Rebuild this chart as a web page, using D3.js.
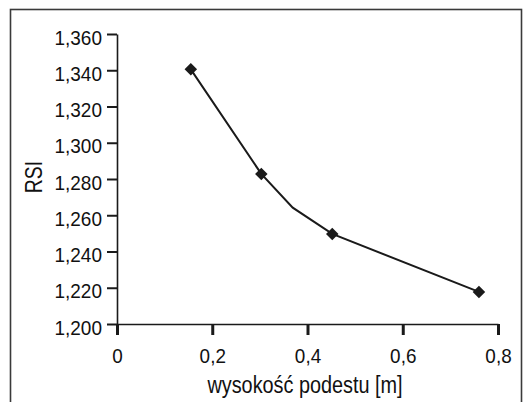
<!DOCTYPE html>
<html>
<head>
<meta charset="utf-8">
<script src="https://cdn.jsdelivr.net/npm/d3@7"></script>
<style>
  body { margin: 0; background: #fff; }
  text { font-family: "Liberation Sans", Arial, sans-serif; fill: #111; }
</style>
</head>
<body>
<div class="chart"></div>
<script>
// values
const heights = [0.155, 0.303, 0.369, 0.452, 0.760];
const rsi = [1.3405, 1.2828, 1.2642, 1.2497, 1.2177];
const hasMarker = [true, true, false, true, true];

const xTicks = [0, 0.2, 0.4, 0.6, 0.8];
const yTicks = [1.2, 1.22, 1.24, 1.26, 1.28, 1.3, 1.32, 1.34, 1.36];

const xTitle = "wysokość podestu [m]";
const yTitle = "RSI";

const W = 525, H = 402;
const margin = { top: 34, right: 27, bottom: 78, left: 117 };
const width = W - margin.left - margin.right;
const height = H - margin.top - margin.bottom;

// condensed look: squeeze text horizontally
const sxY = 0.95;
const sxX = 0.9;
const sxTitle = 0.81;

const pl = d3.formatLocale({ decimal: ",", thousands: " ", grouping: [3], currency: ["", " zł"] });

const svg = d3.select(".chart")
    .append("svg")
    .attr("width", W)
    .attr("height", H);

// outer frame (runs off the bottom edge)
svg.append("rect")
    .attr("x", 10.5)
    .attr("y", 9.5)
    .attr("width", 511)
    .attr("height", 420)
    .attr("fill", "none")
    .attr("stroke", "#3a3a3a")
    .attr("stroke-width", 1.6);

const g = svg.append("g")
    .attr("transform", "translate(" + margin.left + "," + margin.top + ")");

const x = d3.scaleLinear()
    .domain([0, 0.8])
    .range([0, width]);

const y = d3.scaleLinear()
    .domain([1.2, 1.36])
    .range([height, 0]);

// y axis
const yAxis = g.append("g")
    .call(d3.axisLeft(y)
        .tickValues(yTicks)
        .tickFormat(pl.format(".3f"))
        .tickSize(10)
        .tickSizeOuter(0));
yAxis.attr("font-family", null);
yAxis.select(".domain").attr("stroke", "#1a1a1a").attr("stroke-width", 1.6);
yAxis.selectAll(".tick line").attr("stroke", "#1a1a1a").attr("stroke-width", 2);
yAxis.selectAll(".tick text")
    .attr("font-size", 20)
    .attr("x", -15 / sxY)
    .attr("dy", "0.5em")
    .attr("transform", "scale(" + sxY + ",1)");

// x axis
const xAxis = g.append("g")
    .attr("transform", "translate(0," + height + ")")
    .call(d3.axisBottom(x)
        .tickValues(xTicks)
        .tickFormat(d => d === 0 ? "0" : pl.format(".1f")(d))
        .tickSize(11)
        .tickSizeOuter(0));
xAxis.attr("font-family", null);
xAxis.select(".domain").attr("stroke", "#1a1a1a").attr("stroke-width", 1.6);
xAxis.selectAll(".tick line").attr("stroke", "#1a1a1a").attr("stroke-width", 3);
xAxis.selectAll(".tick text")
    .attr("font-size", 21)
    .attr("y", 39.5)
    .attr("dy", null)
    .attr("transform", "scale(" + sxX + ",1)");

// titles
g.append("text")
    .attr("transform", "translate(" + (305 - margin.left) + "," + (392.5 - margin.top) + ") scale(" + sxTitle + ",1)")
    .attr("text-anchor", "middle")
    .attr("font-size", 24.5)
    .text(xTitle);

g.append("text")
    .attr("transform", "translate(" + (42 - margin.left) + "," + (177 - margin.top) + ") rotate(-90) scale(" + sxTitle + ",1)")
    .attr("text-anchor", "middle")
    .attr("font-size", 24)
    .text(yTitle);

// line
const pts = heights.map((h, i) => ({ x: h, y: rsi[i], m: hasMarker[i] }));

g.append("path")
    .datum(pts)
    .attr("fill", "none")
    .attr("stroke", "#1a1a1a")
    .attr("stroke-width", 2)
    .attr("d", d3.line().x(d => x(d.x)).y(d => y(d.y)));

g.append("g")
    .selectAll("path")
    .data(pts.filter(d => d.m))
    .enter()
    .append("path")
    .attr("transform", d => "translate(" + x(d.x) + "," + y(d.y) + ")")
    .attr("d", d3.symbol(d3.symbolDiamond2, 100))
    .attr("fill", "#1a1a1a");
</script>
</body>
</html>
